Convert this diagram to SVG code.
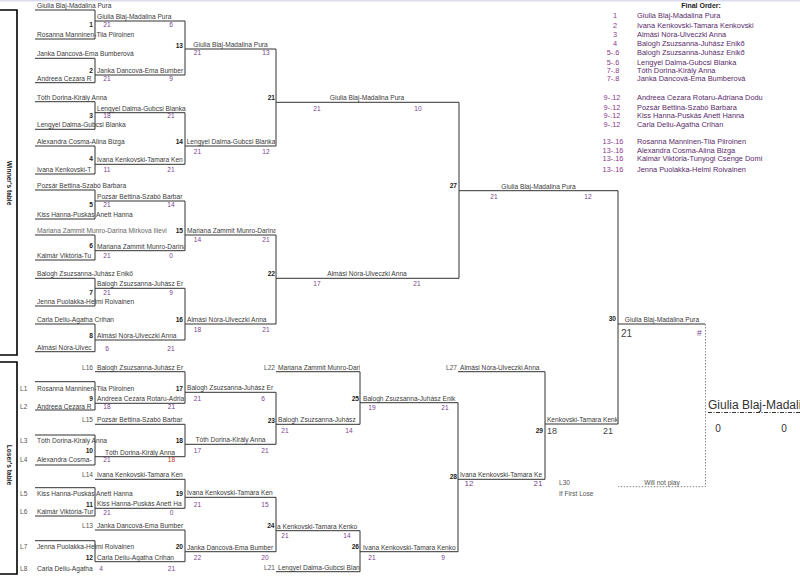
<svg xmlns="http://www.w3.org/2000/svg" width="800" height="583" viewBox="0 0 800 583">
<style>
text{font-family:"Liberation Sans",Arial,sans-serif;font-size:6.6px;fill:#3a3a3a}
.b{font-weight:bold;fill:#222}
.r{text-anchor:end}
.m{text-anchor:middle}
.s{text-anchor:middle;fill:#7b3f8f}
.L{fill:#555}
.fo{font-size:7.4px;fill:#5a2a6a}
.fn{font-size:7.4px;fill:#8b3a8b;text-anchor:middle}
.ln{stroke:#333;stroke-width:1;fill:none}
.bx{stroke:#000;stroke-width:1.6;fill:none}
.dt{stroke:#888;stroke-width:1;fill:none;stroke-dasharray:1.5 1.5}
</style>
<defs>
<clipPath id="c1"><rect x="0" y="0" width="94.5" height="583"/></clipPath>
<clipPath id="c2"><rect x="0" y="0" width="184.5" height="583"/></clipPath>
<clipPath id="c3"><rect x="0" y="0" width="275.5" height="583"/></clipPath>
<clipPath id="c4"><rect x="276" y="0" width="84" height="583"/></clipPath>
<clipPath id="c5"><rect x="360" y="0" width="98" height="583"/></clipPath>
<clipPath id="c6"><rect x="458" y="0" width="86.5" height="583"/></clipPath>
<clipPath id="c7"><rect x="545.5" y="0" width="72" height="583"/></clipPath>
<clipPath id="c8"><rect x="700" y="0" width="100" height="583"/></clipPath>
</defs>
<rect x="0" y="0" width="800" height="583" fill="#fff"/>
<line x1="0" y1="0.8" x2="800" y2="0.8" stroke="#dcdcf0" stroke-width="1.6"/>

<g id="winners-box">
<path class="bx" d="M0 10H17V355H0"/>
<text class="b" transform="translate(7,183) rotate(90)" text-anchor="middle">Winner's table</text>
</g>
<g id="losers-box">
<path class="bx" d="M0 362H17V574H0"/>
<text class="b" transform="translate(7,465) rotate(90)" text-anchor="middle">Loser's table</text>
</g>

<g id="connectors">
<path class="ln" d="M35 10H95V39H35M35 58.3H95V82.7H35M35 101.7H95V129.3H35M35 146H95V174H35M35 190H95V219H35M35 235H95V260H35M35 278.3H95V306H35M35 324H95V351.7H35"/>
<path class="ln" d="M95 21H185V75H95M95 112.7H185V164.3H95M95 201H185V250.7H95M95 288.3H185V340H95"/>
<path class="ln" d="M185 49H276V146H185M185 235H276V324H185"/>
<path class="ln" d="M276 102.3H459V278.3H276"/>
<path class="ln" d="M459 190.7H618V424H545"/>
<path class="ln" d="M618 324H705"/>
<path class="dt" d="M705.5 324V486.7H618"/>
<path class="ln" d="M35 381.7H95V410H35M35 435H95V465H35M35 487.7H95V516H35M35 540.7H95V561.7"/>
<path class="ln" d="M95 371.7H185V403.3H95M95 424.3H185V456.7H95M95 479.3H185V508.3H95M95 530H185V561.7H95"/>
<path class="ln" d="M185 392.3H276V444.3H185M185 497.3H276V551.7H185"/>
<path class="ln" d="M276 371.7H360V424.3H276M276 530.7H360V571.7H276"/>
<path class="ln" d="M360 402.7H458V551.7H360"/>
<path class="ln" d="M458 371.7H545V479.3H458"/>
</g>

<g id="w-entries">
<text x="37" y="7.6">Giulia Blaj-Madalina Pura</text>
<text x="37" y="36.8">Rosanna Manninen-Tiia Piiroinen</text>
<text x="37" y="55.6">Janka Dancová-Ema Bumberová</text>
<text x="37" y="80.8" clip-path="url(#c1)">Andreea Cezara R</text>
<text x="37" y="99.6">Tóth Dorina-Király Anna</text>
<text x="37" y="127.1">Lengyel Dalma-Gubcsi Blanka</text>
<text x="37" y="143.8">Alexandra Cosma-Alina Bizga</text>
<text x="37" y="171.8" clip-path="url(#c1)">Ivana Kenkovski-T</text>
<text x="37" y="188">Pozsár Bettina-Szabó Barbara</text>
<text x="37" y="216.8">Kiss Hanna-Puskás Anett Hanna</text>
<text x="37" y="232.8" clip-path="url(#c2)" style="fill:#666">Mariana Zammit Munro-Darina Mirkova Ilievi</text>
<text x="37" y="257.8" clip-path="url(#c1)">Kalmár Viktória-Tu</text>
<text x="37" y="276.1">Balogh Zsuzsanna-Juhász Enikő</text>
<text x="37" y="303.8">Jenna Puolakka-Helmi Roivainen</text>
<text x="37" y="321.8">Carla Deliu-Agatha Crihan</text>
<text x="37" y="349.9" clip-path="url(#c1)">Almási Nóra-Ulvec</text>
</g>

<g id="m1"><text x="97" y="18.8">Giulia Blaj-Madalina Pura</text><text class="b r" x="93" y="27.4">1</text><text class="s" x="107" y="27.4">21</text><text class="s" x="171" y="27.4">6</text></g>
<g id="m2"><text x="97" y="72.8" clip-path="url(#c2)">Janka Dancová-Ema Bumber</text><text class="b r" x="93" y="73.4">2</text><text class="s" x="107" y="81.4">21</text><text class="s" x="171" y="81.4">9</text></g>
<g id="m3"><text x="97" y="110.5">Lengyel Dalma-Gubcsi Blanka</text><text class="b r" x="93" y="118.4">3</text><text class="s" x="107" y="118.4">18</text><text class="s" x="171" y="118.4">21</text></g>
<g id="m4"><text x="97" y="162.1" clip-path="url(#c2)">Ivana Kenkovski-Tamara Ken</text><text class="b r" x="93" y="161.4">4</text><text class="s" x="107" y="172.1">11</text><text class="s" x="171" y="172.1">21</text></g>
<g id="m5"><text x="97" y="198.8" clip-path="url(#c2)">Pozsár Bettina-Szabó Barbar</text><text class="b r" x="93" y="207.4">5</text><text class="s" x="107" y="207.4">21</text><text class="s" x="171" y="207.4">14</text></g>
<g id="m6"><text x="97" y="248.5" clip-path="url(#c2)">Mariana Zammit Munro-Darina</text><text class="b r" x="93" y="248.4">6</text><text class="s" x="107" y="258.4">21</text><text class="s" x="171" y="258.4">0</text></g>
<g id="m7"><text x="97" y="286.1" clip-path="url(#c2)">Balogh Zsuzsanna-Juhász Er</text><text class="b r" x="93" y="295.1">7</text><text class="s" x="107" y="295.1">21</text><text class="s" x="171" y="295.1">9</text></g>
<g id="m8"><text x="97" y="337.8">Almási Nóra-Ulveczki Anna</text><text class="b r" x="93" y="338.4">8</text><text class="s" x="107" y="350.7">6</text><text class="s" x="171" y="350.7">21</text></g>

<g id="m13"><text class="m" x="230.5" y="46.8">Giulia Blaj-Madalina Pura</text><text class="b r" x="183" y="48.4">13</text><text class="s" x="197.5" y="55.2">21</text><text class="s" x="266" y="55.2">13</text></g>
<g id="m14"><text class="m" x="231" y="143.8" clip-path="url(#c3)">Lengyel Dalma-Gubcsi Blanka</text><text class="b r" x="183" y="143.7">14</text><text class="s" x="197.5" y="154.1">21</text><text class="s" x="266" y="154.1">12</text></g>
<g id="m15"><text x="187" y="232.8" clip-path="url(#c3)">Mariana Zammit Munro-Darina</text><text class="b r" x="183" y="233.1">15</text><text class="s" x="197.5" y="242.4">14</text><text class="s" x="266" y="242.4">21</text></g>
<g id="m16"><text x="187" y="321.8">Almási Nóra-Ulveczki Anna</text><text class="b r" x="183" y="322.4">16</text><text class="s" x="197.5" y="331.7">18</text><text class="s" x="266" y="331.7">21</text></g>

<g id="m21"><text class="m" x="367" y="100.1">Giulia Blaj-Madalina Pura</text><text class="b r" x="275" y="100.1">21</text><text class="s" x="317" y="110.7">21</text><text class="s" x="418" y="110.7">10</text></g>
<g id="m22"><text class="m" x="367" y="276.1">Almási Nóra-Ulveczki Anna</text><text class="b r" x="275" y="276.4">22</text><text class="s" x="317" y="286.4">17</text><text class="s" x="417" y="286.4">21</text></g>
<g id="m27"><text class="m" x="538.5" y="188.5">Giulia Blaj-Madalina Pura</text><text class="b r" x="457" y="188.4">27</text><text class="s" x="494" y="199.4">21</text><text class="s" x="588" y="199.4">12</text></g>
<g id="m30"><text class="m" x="662" y="321.8">Giulia Blaj-Madalina Pura</text><text class="b r" x="616" y="321.4">30</text><text x="621" y="336.8" style="font-size:10px;fill:#444">21</text><text x="697" y="336" style="font-size:8.5px;fill:#7b3f8f">#</text><text class="m" x="662" y="484.8" style="fill:#555">Will not play</text></g>

<g id="l-entries">
<text class="L" x="20" y="390.7">L1</text><text x="37" y="390.7">Rosanna Manninen-Tiia Piiroinen</text>
<text class="L" x="20" y="408.6">L2</text><text x="37" y="408.6" clip-path="url(#c1)">Andreea Cezara R</text>
<text class="L" x="20" y="443.4">L3</text><text x="37" y="443.4">Tóth Dorina-Király Anna</text>
<text class="L" x="20" y="462.4">L4</text><text x="37" y="462.4" clip-path="url(#c1)">Alexandra Cosma-</text>
<text class="L" x="20" y="495.7">L5</text><text x="37" y="495.7">Kiss Hanna-Puskás Anett Hanna</text>
<text class="L" x="20" y="514.4">L6</text><text x="37" y="514.4" clip-path="url(#c1)">Kalmár Viktória-Tur</text>
<text class="L" x="20" y="549.1">L7</text><text x="37" y="549.1">Jenna Puolakka-Helmi Roivainen</text>
<text class="L" x="20" y="570.7">L8</text><text x="37" y="570.7" clip-path="url(#c1)">Carla Deliu-Agatha</text>
<text class="L r" x="93" y="369.5">L16</text><text x="97" y="369.5" clip-path="url(#c2)">Balogh Zsuzsanna-Juhász Er</text>
<text class="L r" x="93" y="422.1">L15</text><text x="97" y="422.1" clip-path="url(#c2)">Pozsár Bettina-Szabó Barbar</text>
<text class="L r" x="93" y="477.1">L14</text><text x="97" y="477.1" clip-path="url(#c2)">Ivana Kenkovski-Tamara Ken</text>
<text class="L r" x="93" y="527.8">L13</text><text x="97" y="527.8" clip-path="url(#c2)">Janka Dancová-Ema Bumber</text>
<text class="L r" x="275" y="369.5">L22</text><text x="278" y="369.5" clip-path="url(#c4)">Mariana Zammit Munro-Dari</text>
<text class="L r" x="275" y="569.5">L21</text><text x="278" y="569.5" clip-path="url(#c4)">Lengyel Dalma-Gubcsi Blan</text>
<text class="L r" x="457" y="369.5">L27</text><text x="460" y="369.5">Almási Nóra-Ulveczki Anna</text>
<text class="L" x="559" y="484.8">L30</text><text class="L" x="559" y="495.6">If First Lose</text>
</g>

<g id="m9"><text x="97" y="401" clip-path="url(#c2)">Andreea Cezara Rotaru-Adria</text><text class="b r" x="93" y="400.7">9</text><text class="s" x="107" y="409.1">18</text><text class="s" x="171.5" y="409.1">21</text></g>
<g id="m10"><text class="m" x="140" y="454.5">Tóth Dorina-Király Anna</text><text class="b r" x="93" y="453.4">10</text><text class="s" x="107" y="462.4">21</text><text class="s" x="171.5" y="462.4" style="fill:#c0392b">18</text></g>
<g id="m11"><text x="97" y="506.1" clip-path="url(#c2)">Kiss Hanna-Puskás Anett Ha</text><text class="b r" x="93" y="506.7">11</text><text class="s" x="107" y="515.1">21</text><text class="s" x="171.5" y="515.1">0</text></g>
<g id="m12"><text x="97" y="559.5">Carla Deliu-Agatha Crihan</text><text class="b r" x="93" y="559.7">12</text><text class="s" x="101" y="570.7">4</text><text class="s" x="171.5" y="570.7">21</text></g>

<g id="m17"><text x="187" y="390.1" clip-path="url(#c3)">Balogh Zsuzsanna-Juhász Er</text><text class="b r" x="183" y="390.7">17</text><text class="s" x="197.5" y="400.7">21</text><text class="s" x="263" y="400.7">6</text></g>
<g id="m18"><text class="m" x="230.5" y="442.1">Tóth Dorina-Király Anna</text><text class="b r" x="183" y="443.4">18</text><text class="s" x="197.5" y="453.4">17</text><text class="s" x="265" y="453.4">21</text></g>
<g id="m19"><text x="187" y="495.1" clip-path="url(#c3)">Ivana Kenkovski-Tamara Ken</text><text class="b r" x="183" y="495.7">19</text><text class="s" x="197.5" y="506.7">21</text><text class="s" x="265" y="506.7">15</text></g>
<g id="m20"><text x="187" y="549.5" clip-path="url(#c3)">Janka Dancová-Ema Bumber</text><text class="b r" x="183" y="549.1">20</text><text class="s" x="197.5" y="559.7">22</text><text class="s" x="265" y="559.7">20</text></g>

<g id="m23"><text x="278" y="422.1" clip-path="url(#c4)">Balogh Zsuzsanna-Juhász</text><text class="b r" x="275" y="423.1">23</text><text class="s" x="285" y="433.1">21</text><text class="s" x="349" y="433.1">14</text></g>
<g id="m24"><text x="277" y="528.5" clip-path="url(#c4)">a Kenkovski-Tamara Kenko</text><text class="b r" x="274.5" y="528.1">24</text><text class="s" x="285" y="538.1">21</text><text class="s" x="347" y="538.1">14</text></g>
<g id="m25"><text x="363" y="400.5" clip-path="url(#c5)">Balogh Zsuzsanna-Juhász Enik</text><text class="b r" x="359" y="400.7">25</text><text class="s" x="372" y="409.7">19</text><text class="s" x="445" y="409.7">21</text></g>
<g id="m26"><text x="363" y="549.5" clip-path="url(#c5)">Ivana Kenkovski-Tamara Kenko</text><text class="b r" x="359" y="549.1">26</text><text class="s" x="372" y="559.7">21</text><text class="s" x="443" y="559.7">9</text></g>
<g id="m28"><text x="460" y="477.1" clip-path="url(#c6)">Ivana Kenkovski-Tamara Ke</text><text class="b r" x="457" y="479.1">28</text><text class="s" x="469" y="486" style="font-size:8px">12</text><text class="s" x="538" y="486" style="font-size:8px">21</text></g>
<g id="m29"><text x="529" y="421.8" clip-path="url(#c7)">Ivana Kenkovski-Tamara Kenkovski</text><text class="b r" x="543" y="433.4">29</text><text class="s" x="552" y="434.3" style="font-size:9px;fill:#444">18</text><text class="s" x="608" y="434.3" style="font-size:9px;fill:#444">21</text></g>

<g id="final">
<text x="708" y="409.3" clip-path="url(#c8)" style="font-size:12px;fill:#333">Giulia Blaj-Madalina Pura</text>
<line x1="708" y1="412.5" x2="800" y2="412.5" stroke="#333" stroke-width="1" stroke-dasharray="4 1.5 1 1.5"/>
<text class="m" x="718" y="432" style="font-size:10px;fill:#333">0</text>
<text class="m" x="784" y="432" style="font-size:10px;fill:#333">0</text>
</g>

<g id="final-order">
<text class="b m" x="701" y="7.6" style="font-size:7px">Final Order:</text>
<text class="fn" x="615" y="18.4">1</text><text class="fo" x="637" y="18.4">Giulia Blaj-Madalina Pura</text>
<text class="fn" x="615" y="27.7">2</text><text class="fo" x="637" y="27.7">Ivana Kenkovski-Tamara Kenkovski</text>
<text class="fn" x="615" y="37">3</text><text class="fo" x="637" y="37">Almási Nóra-Ulveczki Anna</text>
<text class="fn" x="615" y="46.4">4</text><text class="fo" x="637" y="46.4">Balogh Zsuzsanna-Juhász Enikő</text>
<text class="fn" x="613" y="54.6">5-.6</text><text class="fo" x="637" y="54.6">Balogh Zsuzsanna-Juhász Enikő</text>
<text class="fn" x="613" y="65">5-.6</text><text class="fo" x="637" y="65">Lengyel Dalma-Gubcsi Blanka</text>
<text class="fn" x="613" y="73.2">7-.8</text><text class="fo" x="637" y="73.2">Tóth Dorina-Király Anna</text>
<text class="fn" x="613" y="81.4">7-.8</text><text class="fo" x="637" y="81.4">Janka Dancová-Ema Bumberová</text>
<text class="fn" x="612" y="100.4">9-.12</text><text class="fo" x="637" y="100.4">Andreea Cezara Rotaru-Adriana Dodu</text>
<text class="fn" x="612" y="110.2">9-.12</text><text class="fo" x="637" y="110.2">Pozsár Bettina-Szabó Barbara</text>
<text class="fn" x="612" y="118.4">9-.12</text><text class="fo" x="637" y="118.4">Kiss Hanna-Puskás Anett Hanna</text>
<text class="fn" x="612" y="127">9-.12</text><text class="fo" x="637" y="127">Carla Deliu-Agatha Crihan</text>
<text class="fn" x="613" y="143.7">13-.16</text><text class="fo" x="637" y="143.7">Rosanna Manninen-Tiia Piiroinen</text>
<text class="fn" x="613" y="153.2">13-.16</text><text class="fo" x="637" y="153.2">Alexandra Cosma-Alina Bizga</text>
<text class="fn" x="613" y="161.4">13-.16</text><text class="fo" x="637" y="161.4">Kalmár Viktória-Tunyogi Csenge Domi</text>
<text class="fn" x="613" y="172">13-.16</text><text class="fo" x="637" y="172">Jenna Puolakka-Helmi Roivainen</text>
</g>
</svg>
